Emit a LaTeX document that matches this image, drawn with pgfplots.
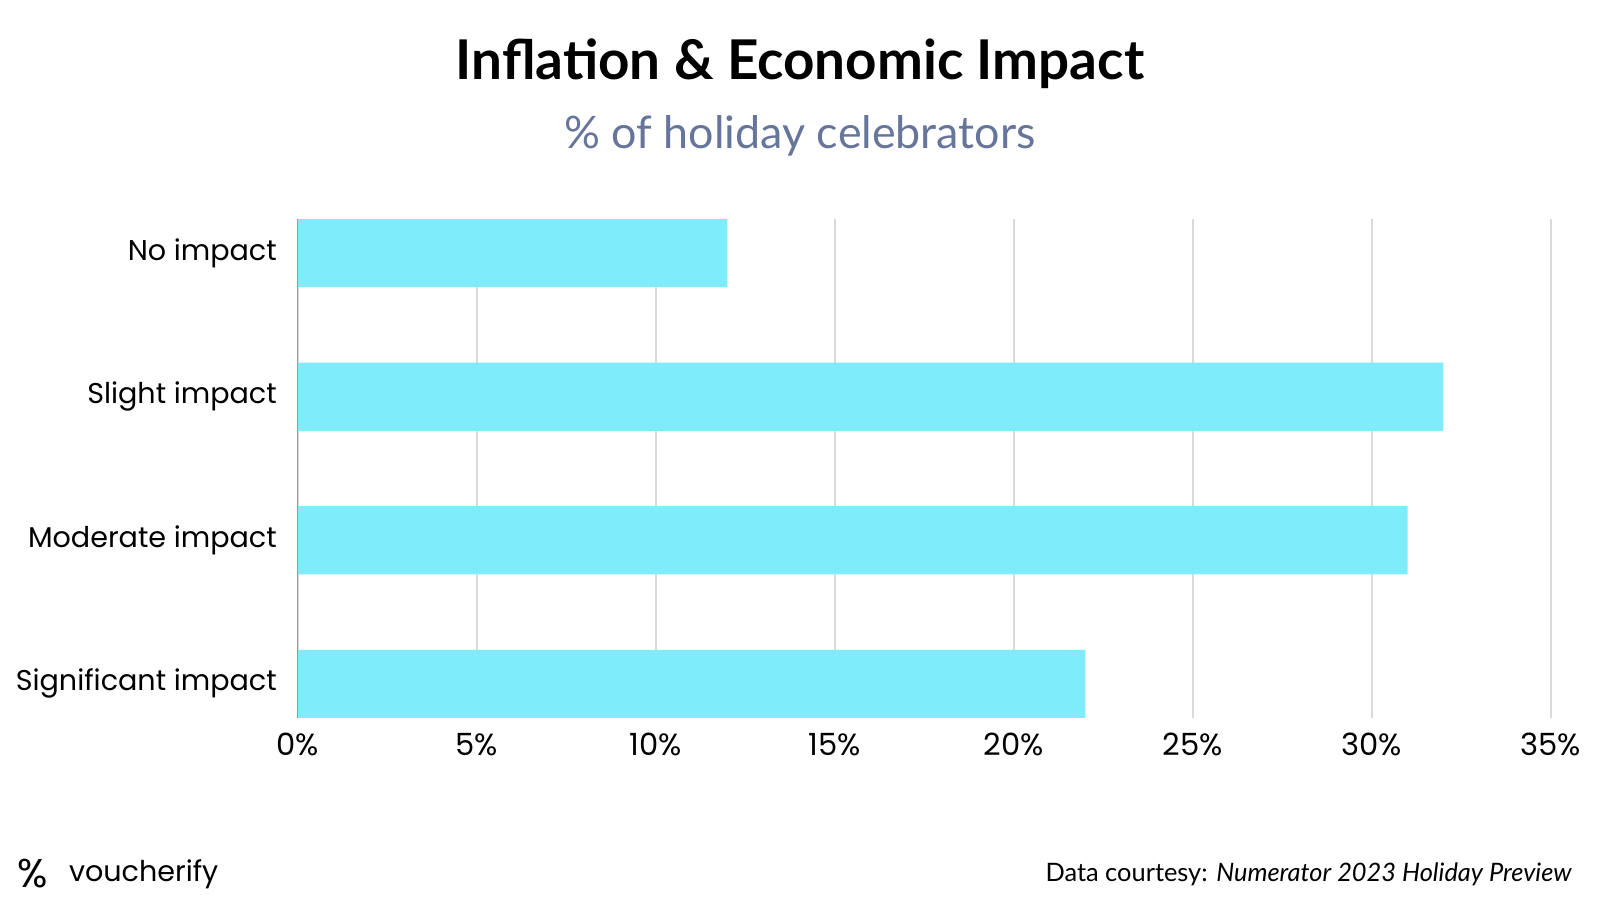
\documentclass[border=0pt]{standalone}
\usepackage{pgfplots}
\pgfplotsset{compat=1.18}
\usepackage{fontspec}
\setmainfont{Lato}
\newfontfamily\labelfont{Poppins}
\definecolor{barcyan}{HTML}{7FECFB}
\definecolor{subgrey}{HTML}{66759A}
\definecolor{gridgrey}{HTML}{DADADA}
\begin{document}
\begin{tikzpicture}[x=1pt,y=1pt]
\useasboundingbox (0,0) rectangle (800,450);
\node[anchor=base, font=\fontsize{27.4}{30}\selectfont\bfseries] at (400,410.2) {Inflation \& Economic Impact};
\node[anchor=base, font=\fontsize{22.4}{25}\selectfont, text=subgrey] at (400,375.5) {\% of holiday celebrators};
\begin{axis}[
    at={(148.9pt,91pt)}, anchor=south west,
    scale only axis, width=626.5pt, height=249.5pt,
    xbar, bar width=0.475,
    xmin=0, xmax=35, ymin=-0.2376, ymax=3.2376,
    xtick={0,5,...,35},
    xticklabel={\pgfmathprintnumber{\tick}\%},
    ytick={0,1,2,3},
    yticklabels={Significant impact, Moderate impact, Slight impact, No impact},
    /pgf/number format/assume math mode=true,
    tick label style={font=\labelfont\fontsize{14.3}{16}\selectfont},
    xticklabel style={yshift=-4pt, font=\labelfont\fontsize{15.3}{17}\selectfont},
    yticklabel style={xshift=-7pt},
    major tick length=0pt,
    xmajorgrids, grid style={gridgrey, line width=0.7pt},
    axis line style={draw=none},
    clip=false,
]
\addplot[fill=barcyan, draw=none] coordinates {(22,0) (31,1) (32,2) (12,3)};
\draw[gray!80, line width=0.6pt] (axis cs:0,-0.2376) -- (axis cs:0,3.2376);
\end{axis}
\node[anchor=west, font=\labelfont\fontsize{20}{22}\selectfont] at (5,13) {\%};
\node[anchor=west, font=\labelfont\fontsize{14.3}{16}\selectfont] at (31,13) {voucherify};
\node[anchor=east, font=\fontsize{12.7}{14}\selectfont] at (789.5,13) {Data courtesy: \textit{Numerator 2023 Holiday Preview}};
\end{tikzpicture}
\end{document}
